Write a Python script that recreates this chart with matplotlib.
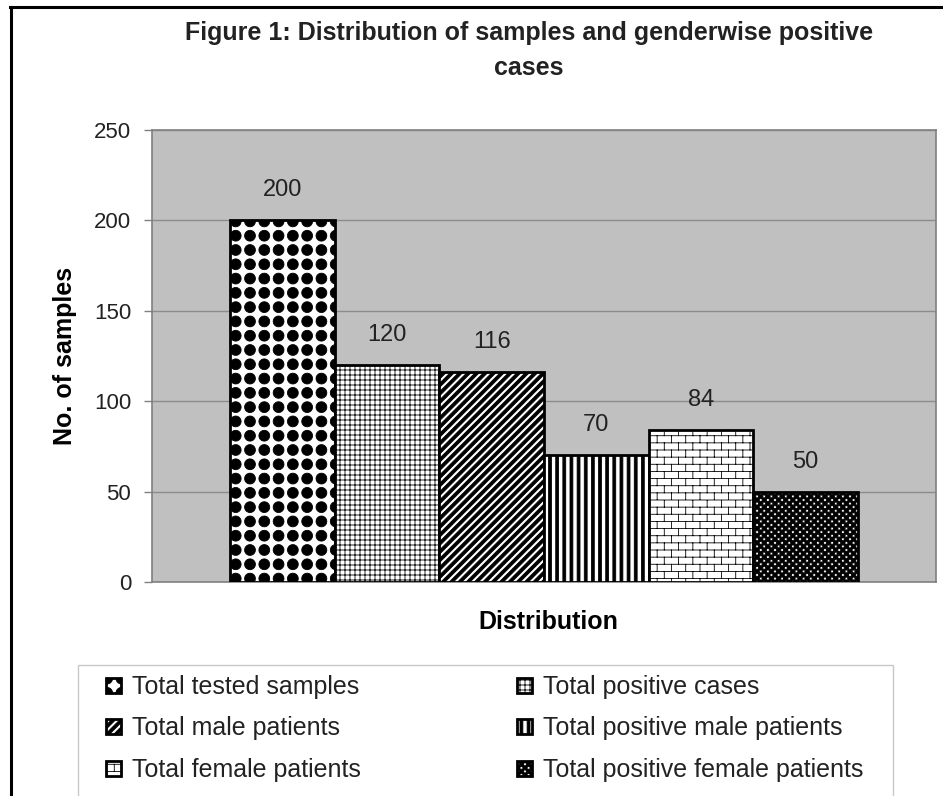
import warnings

import matplotlib
matplotlib.use("Agg")
import matplotlib.hatch as mhatch
import matplotlib.pyplot as plt
import numpy as np
from matplotlib.lines import Line2D
from matplotlib.patches import Rectangle
from matplotlib.path import Path

warnings.simplefilter("ignore")

# === DATA ===
categories = ["Total tested samples", "Total positive cases", "Total male patients",
              "Total positive male patients", "Total female patients",
              "Total positive female patients"]
counts = [200, 120, 116, 70, 84, 50]
y_ticks = [0, 50, 100, 150, 200, 250]
hatches = ["D", "g", "S", "V", "B", "k"]  # custom fill patterns, registered below


# === CUSTOM HATCH PATTERNS (Excel-like fills) ===

def _circle(cx, cy, r, n=20):
    t = np.linspace(0, 2 * np.pi, n, endpoint=False)
    return list(zip(cx + r * np.cos(t), cy + r * np.sin(t)))


class CustomHatch(mhatch.HatchPatternBase):
    key = None

    def __init__(self, hatch, density):
        verts, codes = [], []
        if self.key in hatch:
            for poly in self.polygons():
                verts += list(poly) + [poly[0]]
                codes += [Path.MOVETO] + [Path.LINETO] * (len(poly) - 1) + [Path.CLOSEPOLY]
            for a, b in self.segments():
                verts += [a, b]
                codes += [Path.MOVETO, Path.LINETO]
        self.hverts = np.array(verts, float).reshape(-1, 2)
        self.hcodes = np.array(codes, Path.code_type)
        self.num_vertices = len(self.hverts)

    def polygons(self):
        return []

    def segments(self):
        return []

    def set_vertices_and_codes(self, vertices, codes):
        vertices[:] = self.hverts
        codes[:] = self.hcodes


class BigDots(CustomHatch):
    key = "D"

    def polygons(self):
        s = 1 / 7
        return [_circle((i + 0.5) * s, (j + 0.5) * s, 0.38 * s) for i in range(7) for j in range(7)]


class DenseDots(CustomHatch):
    key = "k"

    def polygons(self):
        s = 1 / 14
        out = [_circle((i + 0.5) * s, (j + 0.5) * s, 0.32 * s) for i in range(14) for j in range(14)]
        out += [_circle(i * s, j * s, 0.32 * s) for i in range(15) for j in range(15)]
        return out


class FineGrid(CustomHatch):
    key = "g"

    def segments(self):
        ks = np.arange(21) / 20
        return [((k, -0.1), (k, 1.1)) for k in ks] + [((-0.1, k), (1.1, k)) for k in ks]


class DiagStripes(CustomHatch):
    key = "S"

    def polygons(self):
        h = 1 / 12
        w = 0.25 * h
        return [[(-0.1, -0.1 + c - w), (1.1, 1.1 + c - w), (1.1, 1.1 + c + w), (-0.1, -0.1 + c + w)]
                for c in np.arange(-13, 14) * h]


class VertStripes(CustomHatch):
    key = "V"

    def polygons(self):
        s = 1 / 14
        w = 0.2 * s
        return [[(x - w, -0.1), (x + w, -0.1), (x + w, 1.1), (x - w, 1.1)] for x in np.arange(15) * s]


class Bricks(CustomHatch):
    key = "B"

    def segments(self):
        s = 1 / 14
        b = 1 / 7
        segs = [((-0.1, j * s), (1.1, j * s)) for j in range(15)]
        for j in range(14):
            off = 0.5 * b if j % 2 else 0
            for k in range(-1, 8):
                xx = k * b + off
                segs.append(((xx, j * s), (xx, (j + 1) * s)))
        return segs


mhatch._hatch_types.extend([BigDots, DenseDots, FineGrid, DiagStripes, VertStripes, Bricks])

# === FIGURE ===
plt.rcParams["font.family"] = ["Liberation Sans", "DejaVu Sans"]
plt.rcParams["hatch.linewidth"] = 0.6

W, H = 943, 796
fig = plt.figure(figsize=(W / 100, H / 100), dpi=100)
ax = fig.add_axes([152 / W, 1 - 582 / H, 784 / W, 452 / H])
ax.set_facecolor("#c0c0c0")

x = np.arange(len(counts))
bars = ax.bar(x, counts, width=1.0, color="white", edgecolor="black", linewidth=2, zorder=3)
for bar, h in zip(bars, hatches):
    bar.set_hatch(h)

for xi, v in zip(x, counts):
    ax.annotate(str(v), (xi, v), xytext=(0, 21.6), textcoords="offset points",
                ha="center", va="center", fontsize=17, color="#222222")

ax.set_xlim(-1.245, len(counts) - 1 + 1.245)
ax.set_ylim(0, 250)
ax.set_yticks(y_ticks)
ax.set_xticks([])
ax.tick_params(axis="y", length=6, width=1, color="#808080", pad=9, labelsize=16, labelcolor="#222222")
ax.yaxis.grid(True, color="#8c8c8c", linewidth=1)
ax.set_axisbelow(True)
for sp in ax.spines.values():
    sp.set_color("#808080")
    sp.set_linewidth(1.2)

ax.set_ylabel("No. of samples", fontsize=18, fontweight="bold", va="center")
ax.yaxis.set_label_coords((65 - 152) / 784, 0.5)
ax.set_xlabel("Distribution", fontsize=18, fontweight="bold", va="center")
ax.xaxis.set_label_coords((548 - 152) / 784, -40 / 452)

fig.text(529 / W, 1 - 33 / H, "Figure 1: Distribution of samples and genderwise positive",
         ha="center", va="center", fontsize=18, fontweight="bold", color="#222222")
fig.text(529 / W, 1 - 68 / H, "cases", ha="center", va="center", fontsize=18,
         fontweight="bold", color="#222222")

# legend: two columns, filled row by row like the original
leg_kw = dict(loc="upper left", frameon=False, borderpad=0, borderaxespad=0,
              handlelength=0.6, handleheight=0.55, handletextpad=0.45,
              labelspacing=0.7, fontsize=18, labelcolor="#222222")
for col, x0 in ((0, 106), (1, 517)):
    idx = range(col, len(categories), 2)
    fig.legend([bars[i] for i in idx], [categories[i] for i in idx],
               bbox_to_anchor=(x0 / W, 1 - 675 / H), **leg_kw)

fig.add_artist(Rectangle((78 / W, -0.02), (893 - 78) / W, 0.02 + 1 - 665 / H,
                         transform=fig.transFigure, fill=False, edgecolor="#c8c8c8", linewidth=1))

# outer frame (only top and left edges visible)
fig.add_artist(Line2D([10 / W, 1], [1 - 7 / H] * 2, transform=fig.transFigure, color="black", lw=2.2))
fig.add_artist(Line2D([11 / W] * 2, [0, 1 - 7 / H], transform=fig.transFigure, color="black", lw=2.2))

fig.savefig("out.png", dpi=100)
